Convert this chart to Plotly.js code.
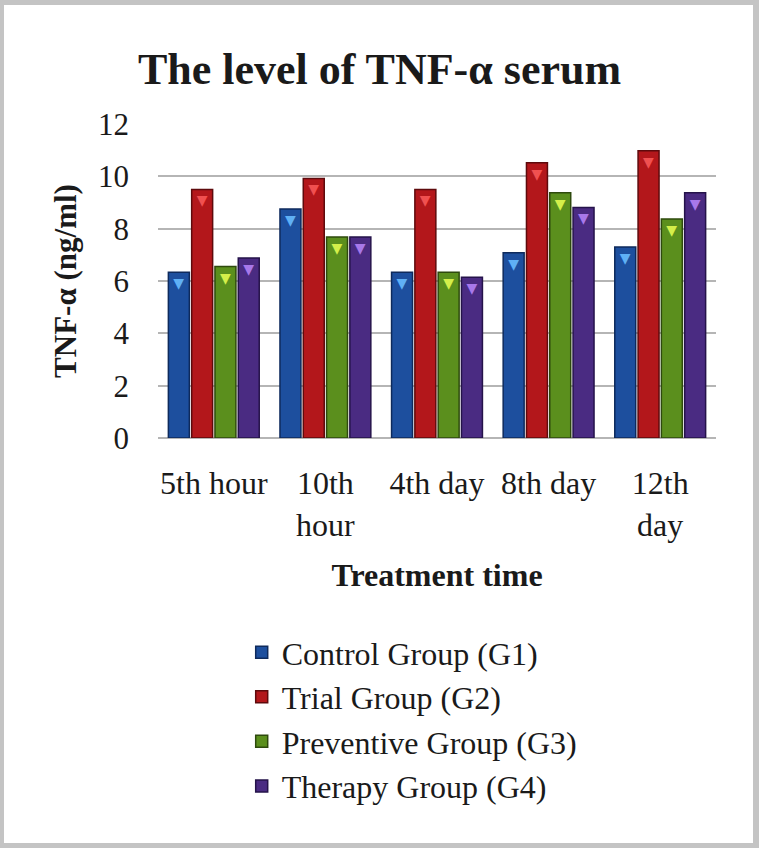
<!DOCTYPE html>
<html>
<head>
<meta charset="utf-8">
<script src="https://cdn.plot.ly/plotly-3.0.1.min.js"></script>
<style>
  html, body { margin: 0; padding: 0; background: #ffffff; }
  #frame { position: absolute; left: 0; top: 0; width: 759px; height: 848px; box-sizing: border-box; border: 5px solid #c4c4c4; border-left-width: 4px; border-right-width: 6px; pointer-events: none; z-index: 10; }
  #chart { position: absolute; left: 0; top: 0; width: 759px; height: 848px; }
</style>
</head>
<body>
<div id="chart"></div>
<div id="frame"></div>
<script>
const categories = ["5th hour", "10th<br>hour", "4th day", "8th day", "12th<br>day"];
const seriesNames = ["Control Group (G1)", "Trial Group (G2)", "Preventive Group (G3)", "Therapy Group (G4)"];
const controlG1 = [6.33, 8.75, 6.33, 7.08, 7.30];
const trialG2 = [9.50, 9.92, 9.50, 10.52, 10.98];
const preventiveG3 = [6.55, 7.68, 6.33, 9.37, 8.37];
const therapyG4 = [6.88, 7.68, 6.14, 8.81, 9.37];
const yTicks = [0, 2, 4, 6, 8, 10, 12];

const colors = ["#1d4f9e", "#b3171b", "#5b8f1d", "#4a2b82"];
const lineColors = ["#0e2a5c", "#5e0a0c", "#2e4a0d", "#25134a"];
const capColors = ["#5fb0f5", "#f05050", "#d4ef4a", "#a878ea"];
const values = [controlG1, trialG2, preventiveG3, therapyG4];

const serif = '"Liberation Serif", "Times New Roman", serif';

const data = values.map((v, i) => ({
  type: 'bar',
  name: seriesNames[i],
  x: categories,
  y: v,
  marker: { color: colors[i], line: { color: lineColors[i], width: 1.5 } },
  texttemplate: '▼',
  textposition: 'inside',
  insidetextanchor: 'end',
  textangle: 0,
  constraintext: 'none',
  insidetextfont: { family: '"DejaVu Sans", sans-serif', size: 14, color: capColors[i] },
  hoverinfo: 'x+y+name'
}));

const layout = {
  width: 759,
  height: 848,
  margin: { l: 158, r: 43, t: 124, b: 410 },
  paper_bgcolor: '#ffffff',
  plot_bgcolor: '#ffffff',
  font: { family: serif, color: '#1a1a1a' },
  title: {
    text: 'The level of TNF-α serum',
    font: { family: serif, size: 44, weight: 'bold', color: '#1a1a1a' },
    x: 0.5, xref: 'container', xanchor: 'center',
    y: 1 - 69 / 848, yref: 'container', yanchor: 'middle'
  },
  barmode: 'group',
  bargap: 0.165,
  bargroupgap: 0.1,
  uniformtext: { mode: false },
  xaxis: {
    type: 'category',
    tickfont: { family: serif, size: 32, color: '#1a1a1a' },
    ticks: '',
    ticklabelstandoff: 23,
    showline: false,
    showgrid: false,
    automargin: false,
    title: { text: 'Treatment time', font: { family: serif, size: 32, weight: 'bold', color: '#1a1a1a' }, standoff: 22 }
  },
  yaxis: {
    range: [0, 12],
    tickvals: yTicks,
    ticktext: yTicks.map(String),
    tickfont: { family: serif, size: 31, color: '#1a1a1a' },
    ticks: '',
    ticklabelstandoff: 28,
    showgrid: true,
    gridcolor: '#b5b5b5',
    gridwidth: 2,
    zeroline: true,
    zerolinecolor: '#b5b5b5',
    zerolinewidth: 2,
    showline: false,
    automargin: false,
    title: { text: 'TNF-α (ng/ml)', font: { family: serif, size: 31, weight: 'bold', color: '#1a1a1a' }, standoff: 12 }
  },
  showlegend: true,
  legend: {
    x: 0.15, xanchor: 'left',
    y: -0.595, yanchor: 'top',
    font: { family: serif, size: 32, color: '#1a1a1a' },
    bgcolor: 'rgba(0,0,0,0)',
    tracegroupgap: 0,
    itemwidth: 30
  }
};

Plotly.newPlot('chart', data, layout, { displayModeBar: false, staticPlot: true });
</script>
</body>
</html>
